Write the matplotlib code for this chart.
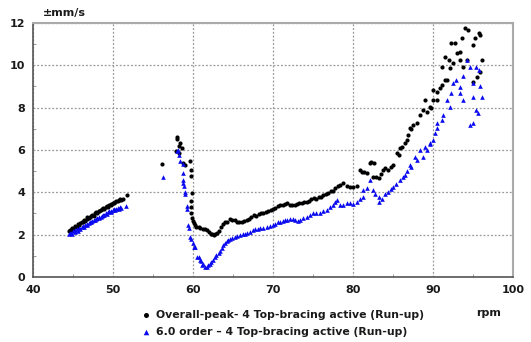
import numpy as np
import matplotlib
matplotlib.use("Agg")
import matplotlib.pyplot as plt
from matplotlib.ticker import MultipleLocator

plt.rcParams['font.weight'] = 'bold'

# Overall-peak (black circles)
peak_rpm = [
    44.5, 44.6, 44.8, 44.9, 45.0, 45.2, 45.3, 45.5, 45.6, 45.8, 45.9, 46.1, 46.2, 46.4, 46.5, 46.7,
    46.8, 47.0, 47.1, 47.3, 47.4, 47.6, 47.7, 47.9, 48.0, 48.2, 48.3, 48.5, 48.6, 48.8, 48.9, 49.1,
    49.2, 49.4, 49.5, 49.7, 49.8, 50.0, 50.1, 50.3, 50.4, 50.6, 50.7, 50.9, 51.0, 51.2, 51.7,
    56.1, 58.0, 58.0, 58.2, 58.4, 58.6, 57.9, 58.3, 58.8, 59.0, 59.6, 59.7, 59.8, 59.9, 59.8, 59.7,
    59.8, 59.9, 60.0, 60.1, 60.2, 60.4, 60.7, 60.9, 61.2, 61.5, 61.8, 62.0, 62.2, 62.4, 62.6, 62.8,
    63.0, 63.2, 63.5, 63.8, 64.0, 64.3, 64.6, 64.9, 65.2, 65.5, 65.8, 66.1, 66.4, 66.7, 67.0, 67.3,
    67.6, 67.9, 68.2, 68.5, 68.8, 69.1, 69.4, 69.7, 70.0, 70.3, 70.6, 70.9, 71.2, 71.5, 71.8, 72.1,
    72.4, 72.7, 73.0, 73.3, 73.6, 73.9, 74.2, 74.5, 74.8, 75.1, 75.4, 75.7, 76.0, 76.3, 76.6, 76.9,
    77.2, 77.5, 77.8, 78.1, 78.4, 78.8, 79.2, 79.6, 80.0, 80.5, 80.9, 81.1, 81.4, 81.7, 82.1, 82.3,
    82.5, 82.6, 82.9, 83.2, 83.5, 83.8, 84.0, 84.4, 84.8, 85.0, 85.5, 85.7, 85.9, 86.1, 86.5, 86.7,
    86.9, 87.1, 87.3, 87.5, 88.0, 88.4, 88.8, 89.0, 89.2, 89.6, 89.8, 90.0, 90.0, 90.5, 90.5, 90.9,
    91.1, 91.1, 91.5, 91.5, 91.7, 92.0, 92.1, 92.3, 92.5, 92.8, 93.0, 93.4, 93.4, 93.6, 93.8, 94.0,
    94.2, 94.4, 95.0, 95.0, 95.3, 95.5, 95.7, 95.9, 95.9, 96.1,
]
peak_val = [
    2.15, 2.22, 2.20, 2.30, 2.28, 2.35, 2.40, 2.38, 2.50, 2.45, 2.55, 2.60, 2.58, 2.70, 2.65, 2.75,
    2.82, 2.78, 2.85, 2.90, 2.95, 2.90, 3.00, 3.05, 3.00, 3.10, 3.12, 3.15, 3.20, 3.25, 3.22, 3.30,
    3.35, 3.30, 3.40, 3.42, 3.45, 3.50, 3.48, 3.55, 3.60, 3.58, 3.62, 3.68, 3.65, 3.70, 3.85,
    5.35, 6.62, 6.50, 6.20, 6.32, 6.10, 5.95, 5.85, 5.40, 5.30, 5.50, 5.05, 4.75, 3.95, 3.60, 3.30,
    3.00, 2.80, 2.65, 2.55, 2.45, 2.38, 2.35, 2.30, 2.28, 2.25, 2.20, 2.12, 2.05, 2.02, 2.00, 2.05,
    2.10, 2.18, 2.35, 2.50, 2.58, 2.62, 2.75, 2.70, 2.68, 2.62, 2.60, 2.58, 2.65, 2.68, 2.75, 2.85,
    2.92, 2.90, 2.98, 3.02, 3.00, 3.08, 3.10, 3.18, 3.22, 3.28, 3.35, 3.40, 3.38, 3.45, 3.48, 3.42,
    3.38, 3.42, 3.45, 3.50, 3.48, 3.52, 3.56, 3.60, 3.68, 3.72, 3.70, 3.78, 3.80, 3.85, 3.92, 3.98,
    4.05, 4.08, 4.20, 4.28, 4.35, 4.43, 4.30, 4.27, 4.25, 4.30, 5.05, 4.98, 4.95, 4.90, 5.37, 5.45,
    4.74, 5.37, 4.70, 4.66, 4.85, 5.05, 5.13, 5.05, 5.21, 5.29, 5.84, 5.76, 6.08, 6.16, 6.32, 6.47,
    6.71, 7.02, 7.00, 7.18, 7.26, 7.65, 7.89, 8.36, 7.81, 8.04, 7.97, 8.36, 8.83, 8.75, 8.36, 8.91,
    9.07, 9.93, 9.31, 10.41, 9.30, 10.26, 9.86, 11.04, 10.10, 11.04, 10.57, 10.64, 10.25, 11.28, 9.90, 11.75,
    10.25, 11.67, 10.96, 9.20, 11.28, 9.46, 11.51, 11.43, 9.70, 10.25,
]

# 6.0 order (blue triangles)
order_rpm = [
    44.5, 44.6, 44.8, 44.9, 45.0, 45.2, 45.3, 45.5, 45.6, 45.8, 45.9, 46.1, 46.2, 46.4, 46.5, 46.7,
    46.8, 47.0, 47.1, 47.3, 47.4, 47.6, 47.7, 47.9, 48.0, 48.2, 48.3, 48.5, 48.6, 48.8, 48.9, 49.1,
    49.2, 49.4, 49.5, 49.7, 49.8, 50.0, 50.1, 50.3, 50.4, 50.6, 50.7, 50.9, 51.0, 51.6,
    56.2, 58.0, 58.1, 58.2, 58.4, 58.7, 58.7, 58.8, 58.7, 58.9, 59.0, 59.0, 59.2, 59.3, 59.4, 59.5,
    59.6, 59.8, 60.0, 60.1, 60.2, 60.5, 60.8, 60.9, 61.0, 61.1, 61.3, 61.5, 61.7, 61.9, 62.1, 62.3,
    62.5, 62.7, 62.9, 63.2, 63.4, 63.6, 63.8, 64.0, 64.2, 64.4, 64.6, 64.9, 65.2, 65.5, 65.9, 66.2,
    66.5, 66.8, 67.1, 67.5, 67.8, 68.1, 68.4, 68.8, 69.2, 69.6, 70.0, 70.3, 70.6, 70.9, 71.2, 71.5,
    71.8, 72.1, 72.5, 72.8, 73.1, 73.4, 73.8, 74.2, 74.6, 75.0, 75.4, 75.9, 76.3, 76.7, 77.1, 77.5,
    77.8, 78.0, 78.4, 78.8, 79.2, 79.6, 80.0, 80.5, 80.9, 81.3, 81.3, 81.7, 82.1, 82.5, 82.8, 83.2,
    83.3, 83.6, 84.0, 84.4, 84.7, 85.0, 85.4, 85.9, 86.2, 86.5, 86.8, 87.1, 87.3, 87.7, 88.0, 88.4,
    88.8, 89.0, 89.2, 89.6, 89.6, 90.0, 90.2, 90.5, 90.5, 91.1, 91.3, 91.7, 92.1, 92.3, 92.5, 92.9,
    93.4, 93.4, 93.8, 93.8, 94.2, 94.6, 94.6, 95.0, 95.0, 95.0, 95.4, 95.4, 95.6, 95.7, 95.9, 96.1,
]
order_val = [
    2.02, 2.08, 2.10, 2.05, 2.15, 2.12, 2.20, 2.25, 2.18, 2.30, 2.28, 2.35, 2.40, 2.38, 2.45, 2.50,
    2.48, 2.55, 2.60, 2.58, 2.65, 2.70, 2.68, 2.75, 2.78, 2.80, 2.85, 2.82, 2.90, 2.95, 2.92, 3.00,
    2.98, 3.05, 3.10, 3.05, 3.12, 3.15, 3.20, 3.15, 3.22, 3.25, 3.20, 3.30, 3.28, 3.35,
    4.74, 5.95, 6.00, 5.76, 5.50, 5.35, 4.90, 4.60, 4.43, 4.30, 4.03, 3.90, 3.35, 3.20, 2.46, 2.30,
    1.90, 1.80, 1.60, 1.43, 1.40, 0.96, 0.96, 0.80, 0.75, 0.57, 0.60, 0.49, 0.45, 0.55, 0.60, 0.70,
    0.82, 0.96, 1.02, 1.12, 1.25, 1.35, 1.50, 1.60, 1.72, 1.75, 1.78, 1.83, 1.90, 1.95, 1.98, 2.02,
    2.05, 2.08, 2.12, 2.22, 2.25, 2.28, 2.30, 2.32, 2.35, 2.40, 2.46, 2.52, 2.58, 2.61, 2.64, 2.70,
    2.68, 2.72, 2.72, 2.70, 2.65, 2.69, 2.78, 2.85, 2.92, 3.01, 3.02, 3.04, 3.10, 3.16, 3.32, 3.40,
    3.55, 3.64, 3.42, 3.40, 3.50, 3.48, 3.45, 3.56, 3.70, 4.11, 3.80, 4.20, 4.58, 4.11, 3.90, 3.80,
    3.56, 3.70, 3.90, 4.03, 4.15, 4.27, 4.40, 4.58, 4.70, 4.82, 5.00, 5.29, 5.21, 5.68, 5.53, 6.00,
    5.68, 6.16, 6.00, 6.32, 6.30, 6.47, 6.79, 7.02, 7.26, 7.42, 7.65, 8.36, 8.04, 8.67, 9.15, 9.31,
    8.99, 8.67, 8.36, 9.50, 10.25, 9.93, 7.18, 9.15, 8.52, 7.26, 9.93, 7.89, 7.73, 9.78, 9.00, 8.52,
]

fig = plt.figure(figsize=(5.31, 3.42), dpi=100)
ax = fig.add_axes([0.062, 0.19, 0.904, 0.743])

ax.scatter(peak_rpm, peak_val, s=9, marker='o', color='black', linewidths=0,
           label='Overall-peak- 4 Top-bracing active (Run-up)', zorder=3)
ax.scatter(order_rpm, order_val, s=11, marker='^', color='#0a0af0', linewidths=0,
           label='6.0 order \u2013 4 Top-bracing active (Run-up)', zorder=3)

ax.set_xlim(40, 100)
ax.set_ylim(0, 12)
ax.xaxis.set_major_locator(MultipleLocator(10))
ax.xaxis.set_minor_locator(MultipleLocator(5))
ax.yaxis.set_major_locator(MultipleLocator(2))
ax.yaxis.set_minor_locator(MultipleLocator(1))
ax.tick_params(which='major', length=0, labelsize=8, labelcolor='#1a1a1a', pad=5.5)
ax.tick_params(which='minor', direction='in', length=2, color='#888888')
ax.grid(True, which='major', linestyle=(0, (1.5, 1.5)), color='#999999', linewidth=0.9)

for side in ['top', 'right']:
    ax.spines[side].set_color('#aaaaaa')
    ax.spines[side].set_linewidth(1.5)
for side in ['left', 'bottom']:
    ax.spines[side].set_color('#555555')
    ax.spines[side].set_linewidth(1.2)

fig.text(43 / 531, 1 - 13 / 342, '\u00b1mm/s', fontsize=8, color='#1a1a1a',
         va='center', ha='left')
fig.text(489 / 531, 1 - 313 / 342, 'rpm', fontsize=8, color='#1a1a1a',
         va='center', ha='center')

leg = fig.legend(loc='upper left', bbox_to_anchor=(136 / 531, 1 - 306 / 342), frameon=False,
                 prop={'size': 7.8, 'weight': 'bold'}, handlelength=1.0, handletextpad=0.4,
                 labelspacing=0.62, borderaxespad=0, borderpad=0.4,
                 markerscale=1.2, labelcolor='#1a1a1a')

fig.savefig('out.png', dpi=100)
